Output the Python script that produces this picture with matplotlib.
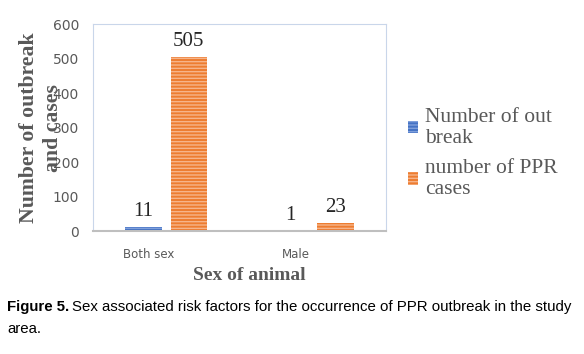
import matplotlib.pyplot as plt
import matplotlib.transforms as mtransforms
import numpy as np

# Datos del gráfico
categorias = ['Both sex', 'Male']
brotes = [11, 1]
casos = [505, 23]
series = ['Number of out\nbreak', 'number of PPR\ncases']

plt.rcParams['hatch.linewidth'] = 1.0

fig = plt.figure(figsize=(5.84, 3.54), dpi=100)
ax = fig.add_axes([0.159, 0.347, 0.502, 0.585])

x = np.arange(len(categorias))
ancho = 0.25
sep = 0.155

b1 = ax.bar(x - sep, brotes, ancho, color='#4472C4', edgecolor='#7F9FDB',
            hatch='-----', linewidth=0, label=series[0])
b2 = ax.bar(x + sep, casos, ancho, color='#ED7D31', edgecolor='#F6B48A',
            hatch='-----', linewidth=0, label=series[1])

# Etiquetas de valores
for barras, vals in [(b1, brotes), (b2, casos)]:
    for r, v in zip(barras, vals):
        ax.text(r.get_x() + r.get_width() / 2, v + 17, str(v), ha='center',
                va='bottom', fontsize=15, family='Liberation Serif', color='#262626')

ax.set_xlim(-0.5, 1.5)
ax.set_ylim(0, 600)
ax.set_yticks(range(0, 601, 100))
ax.set_xticks(x)
ax.set_xticklabels(categorias, fontsize=8.5, color='#595959')
ax.tick_params(axis='y', labelsize=10, colors='#595959', length=0, pad=10)
ax.tick_params(axis='x', length=0, pad=12)
# desplazar etiquetas del eje x un poco a la izquierda, como en el original
desp = mtransforms.ScaledTranslation(-17 / 100, 0, fig.dpi_scale_trans)
for lbl in ax.get_xticklabels():
    lbl.set_transform(lbl.get_transform() + desp)

for s in ['left', 'top', 'right']:
    ax.spines[s].set_color('#C9D6EA')
    ax.spines[s].set_linewidth(0.8)
ax.spines['bottom'].set_color('#BFBFBF')
ax.spines['bottom'].set_linewidth(1.5)

# Títulos de ejes
fig.text(249 / 584, 1 - 276 / 354, 'Sex of animal', ha='center', va='center',
         fontsize=14, fontweight='bold', family='Liberation Serif', color='#595959')
fig.text(41 / 584, 1 - 128 / 354, 'Number of outbreak\nand cases', ha='center',
         va='center', rotation=90, fontsize=15.7, fontweight='bold',
         family='Liberation Serif', color='#595959', linespacing=1.3)

# Leyenda
leg = fig.legend(handles=[b1, b2], loc='upper left', bbox_to_anchor=(0.665, 0.75),
                 frameon=False, prop={'family': 'Liberation Serif', 'size': 15.5},
                 labelcolor='#595959', handlelength=0.5, handleheight=0.5,
                 handletextpad=0.3, labelspacing=0.55)
for t in leg.get_texts():
    t.set_linespacing(1.12)

# Pie de figura
t1 = fig.text(0.012, 1 - 307 / 354, 'Figure 5.', fontsize=10.8, fontweight='bold',
              family='Liberation Sans', va='center', color='black')
fig.canvas.draw()
bb = t1.get_window_extent()
fig.text(bb.x1 / fig.bbox.width + 0.005, 1 - 307 / 354,
         'Sex associated risk factors for the occurrence of PPR outbreak in the study',
         fontsize=10.8, family='Liberation Sans', va='center', color='black')
fig.text(0.012, 1 - 329 / 354, 'area.', fontsize=10.8,
         family='Liberation Sans', va='center', color='black')

plt.savefig('out.png', dpi=100)
